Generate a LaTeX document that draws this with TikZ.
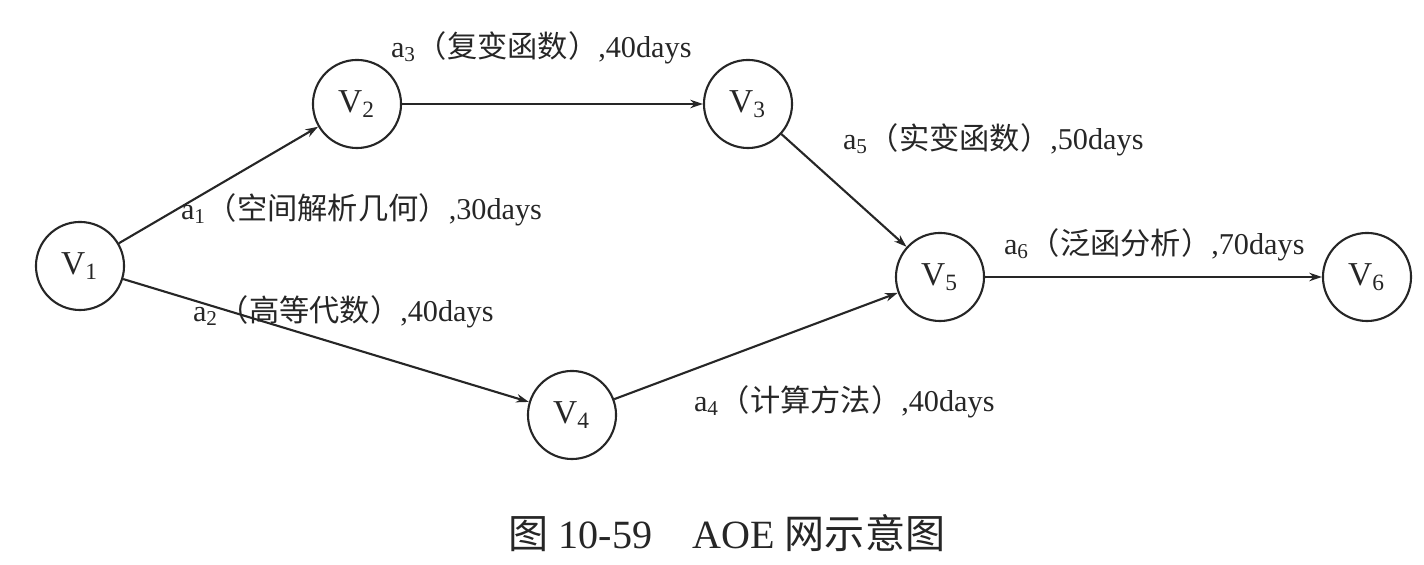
\documentclass[tikz,border=0pt]{standalone}
\usepackage{fontspec}
\setmainfont{Liberation Serif}
\newfontfamily\cjk{Noto Sans CJK SC}
\usetikzlibrary{arrows.meta}

\begin{document}
\begin{tikzpicture}[>={Stealth[length=3.6pt,width=2.4pt]}, x=0.01cm, y=-0.01cm,
    color=black!85, line width=0.6pt,
    vertex/.style={circle, draw, minimum size=0.88cm, inner sep=0pt, font=\fontsize{9.5}{11}\selectfont},
    lbl/.style={anchor=west, inner sep=0pt, font=\fontsize{8.6}{10}\selectfont}]
    \useasboundingbox (0, 0) rectangle (1424, 565);
    \node[vertex] (v1) at (80, 266) {V\textsubscript{1}};
    \node[vertex] (v2) at (357, 104) {V\textsubscript{2}};
    \node[vertex] (v3) at (748, 104) {V\textsubscript{3}};
    \node[vertex] (v4) at (572, 415) {V\textsubscript{4}};
    \node[vertex] (v5) at (940, 277) {V\textsubscript{5}};
    \node[vertex] (v6) at (1367, 277) {V\textsubscript{6}};
    \node[lbl] (a1) at (180, 210) {a\textsubscript{1}{\cjk（空间解析几何）},30days};
    \node[lbl] (a2) at (192, 312) {a\textsubscript{2}{\cjk（高等代数）},40days};
    \node[lbl] (a3) at (390, 48) {a\textsubscript{3}{\cjk（复变函数）},40days};
    \node[lbl] (a4) at (693, 402) {a\textsubscript{4}{\cjk（计算方法）},40days};
    \node[lbl] (a5) at (842, 140) {a\textsubscript{5}{\cjk（实变函数）},50days};
    \node[lbl] (a6) at (1003, 245) {a\textsubscript{6}{\cjk（泛函分析）},70days};
    \node[font=\fontsize{11.4}{13}\selectfont] (cap) at (727, 533) {{\cjk 图} 10-59\quad AOE {\cjk 网示意图}};
    \draw [->] (v1) -- (v2);
    \draw [->] (v2) -- (v3);
    \draw [->] (v1) -- (v4);
    \draw [->] (v3) -- (v5);
    \draw [->] (v4) -- (v5);
    \draw [->] (v5) -- (v6);
\end{tikzpicture}
\end{document}
